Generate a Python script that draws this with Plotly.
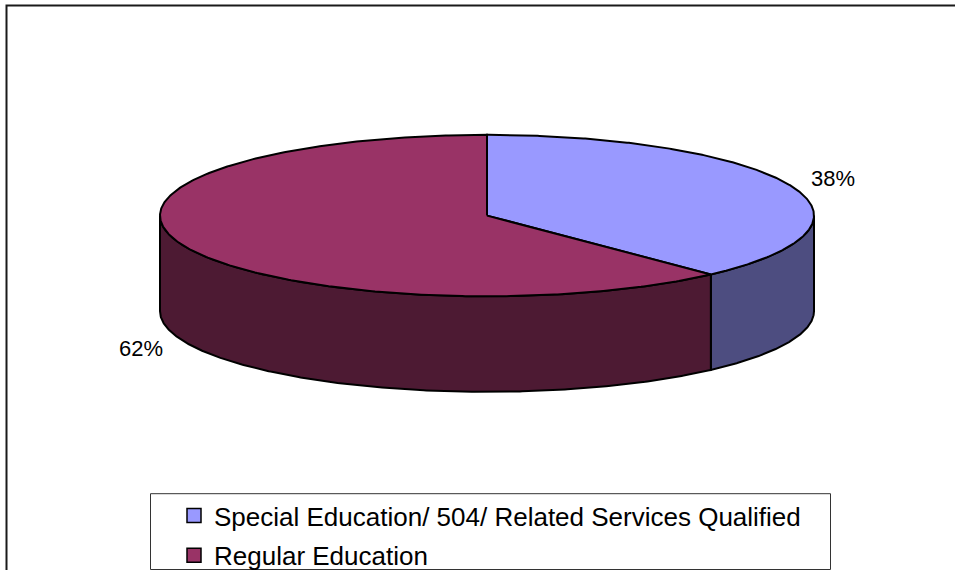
import numpy as np
import plotly.graph_objects as go

# ---- data ----
categories = ["Special Education/ 504/ Related Services Qualified", "Regular Education"]
values = [38, 62]
pct_labels = ["38%", "62%"]

# ---- style ----
top_colors = ["#9999FF", "#993366"]
side_colors = ["#4D4D80", "#4D1A33"]
FONT = "Arial, 'Liberation Sans', sans-serif"

W, H = 955, 579
CX, CY = 487, 219        # ellipse centre (pixel space)
RX, RY = 327, 82         # ellipse radii
DEPTH = 97               # wall height
LABEL_KX, LABEL_KY = 1.06, 1.26

def pt(theta_deg, dy=0.0):
    t = np.radians(theta_deg)
    return CX + RX * np.sin(t), CY - RY * np.cos(t) + dy

fig = go.Figure()
total = float(sum(values))
bounds = np.cumsum([0] + values) / total * 360.0

# front side walls
for i in range(len(values)):
    a0, a1 = bounds[i], bounds[i + 1]
    lo, hi = max(a0, 90.0), min(a1, 270.0)
    if hi > lo:
        th = np.linspace(lo, hi, 300)
        xt, yt = pt(th)
        xb, yb = pt(th[::-1], DEPTH)
        xs = np.concatenate([xt, xb, xt[:1]])
        ys = np.concatenate([yt, yb, yt[:1]])
        fig.add_trace(go.Scatter(x=xs, y=ys, fill="toself", fillcolor=side_colors[i],
                                 mode="lines", line=dict(color="black", width=2),
                                 showlegend=False, hoverinfo="skip"))

# top faces
for i in range(len(values)):
    a0, a1 = bounds[i], bounds[i + 1]
    th = np.linspace(a0, a1, 400)
    xa, ya = pt(th)
    xs = np.concatenate([[CX], xa, [CX]])
    ys = np.concatenate([[CY], ya, [CY]])
    fig.add_trace(go.Scatter(x=xs, y=ys, fill="toself", fillcolor=top_colors[i],
                             mode="lines", line=dict(color="black", width=2),
                             showlegend=False, hoverinfo="skip"))

# legend entries
for i, name in enumerate(categories):
    fig.add_trace(go.Scatter(x=[None], y=[None], mode="markers", name=name,
                             legendgroup=str(i),
                             marker=dict(symbol="square", size=14, color=top_colors[i],
                                         line=dict(color="black", width=1.5))))

# percentage labels
annotations = []
for i in range(len(values)):
    mid = (bounds[i] + bounds[i + 1]) / 2.0
    s, c = np.sin(np.radians(mid)), np.cos(np.radians(mid))
    x = CX + RX * LABEL_KX * s
    y = CY - RY * LABEL_KY * c + (DEPTH if c < 0 else 0)
    annotations.append(dict(x=x, y=y, xref="x", yref="y", text=pct_labels[i],
                            showarrow=False, xanchor="left" if s > 0 else "right",
                            yanchor="middle", font=dict(family=FONT, size=22, color="black")))

shapes = [
    # outer chart border (right/bottom lie outside the view)
    dict(type="rect", xref="x", yref="y", x0=6.5, y0=5.5, x1=W + 20, y1=H + 20,
         line=dict(color="#1a1a1a", width=2), fillcolor="rgba(0,0,0,0)", layer="above"),
    # legend box
    dict(type="rect", xref="x", yref="y", x0=150.5, y0=501.5, x1=830.5, y1=578.5,
         line=dict(color="#333333", width=1), fillcolor="rgba(0,0,0,0)", layer="below"),
]

fig.update_layout(
    width=W, height=H, autosize=False,
    margin=dict(l=0, r=0, t=0, b=0),
    paper_bgcolor="white", plot_bgcolor="white",
    xaxis=dict(range=[0, W], visible=False, fixedrange=True),
    yaxis=dict(range=[H, 0], visible=False, fixedrange=True),
    showlegend=True,
    legend=dict(x=174 / W, y=1 - 500 / H, xanchor="left", yanchor="top",
                bgcolor="rgba(0,0,0,0)", borderwidth=0, tracegroupgap=3,
                font=dict(family=FONT, size=26, color="black")),
    annotations=annotations,
    shapes=shapes,
)

fig.write_html("out.html")
